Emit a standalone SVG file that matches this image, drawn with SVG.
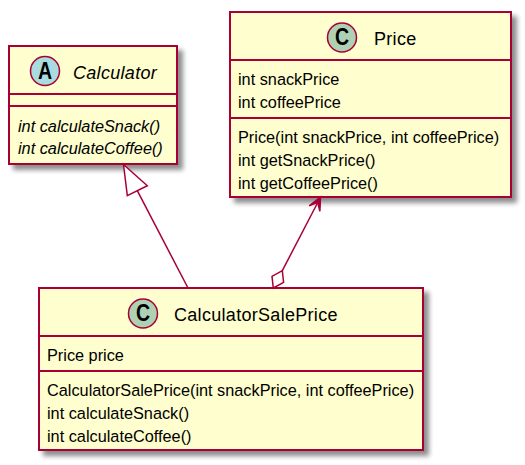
<svg xmlns="http://www.w3.org/2000/svg" width="525" height="465" viewBox="0 0 525 465">
<defs>
<filter id="sh" x="-10%" y="-10%" width="130%" height="130%">
<feGaussianBlur in="SourceAlpha" stdDeviation="2.5" result="b"/>
<feOffset in="b" dx="5" dy="5" result="o"/>
<feComponentTransfer in="o" result="g"><feFuncA type="linear" slope="0.45"/></feComponentTransfer>
<feMerge><feMergeNode in="g"/><feMergeNode in="SourceGraphic"/></feMerge>
</filter>
</defs>
<style>
.box{fill:#FEFECE;stroke:#A80036;stroke-width:2;filter:url(#sh)}
.div{stroke:#A80036;stroke-width:2}
.circ{stroke:#A80036;stroke-width:1.5}
.glyph{font-family:"Liberation Sans",Arial,sans-serif;font-size:23px;font-weight:bold;fill:#000;text-anchor:middle}
.title{font-family:"Liberation Sans",Arial,sans-serif;font-size:18px;fill:#000;letter-spacing:0.3px}
.mem{font-family:"Liberation Sans",Arial,sans-serif;font-size:16.3px;fill:#000}
.it{font-style:italic}
.edge{stroke:#A80036;stroke-width:1.5;fill:none}
</style>
<rect width="525" height="465" fill="#FFFFFF"/>
<g id="Calculator">
<rect class="box" x="9" y="46" width="168" height="118"/>
<line class="div" x1="9" y1="94" x2="177" y2="94"/>
<line class="div" x1="9" y1="106" x2="177" y2="106"/>
<circle class="circ" cx="45" cy="71" r="14.5" fill="#A9DCDF"/>
<text class="glyph" x="45" y="79" transform="translate(45 0) scale(0.85 1) translate(-45 0)">A</text>
<text class="title it" x="73" y="78.5">Calculator</text>
<text class="mem it" x="18" y="131.5">int calculateSnack()</text>
<text class="mem it" x="18" y="154">int calculateCoffee()</text>
</g>
<g id="Price">
<rect class="box" x="230" y="12" width="281" height="185"/>
<line class="div" x1="230" y1="60" x2="511" y2="60"/>
<line class="div" x1="230" y1="118" x2="511" y2="118"/>
<circle class="circ" cx="342" cy="37.5" r="14.5" fill="#ADD1B2"/>
<text class="glyph" x="342" y="45.5" transform="translate(342 0) scale(0.85 1) translate(-342 0)">C</text>
<text class="title" x="374" y="44.5">Price</text>
<text class="mem" x="238" y="84.5">int snackPrice</text>
<text class="mem" x="238" y="107.5">int coffeePrice</text>
<text class="mem" x="238" y="142.5">Price(int snackPrice, int coffeePrice)</text>
<text class="mem" x="238" y="165.5">int getSnackPrice()</text>
<text class="mem" x="238" y="188.5">int getCoffeePrice()</text>
</g>
<g id="CalculatorSalePrice">
<rect class="box" x="39" y="288" width="384" height="162"/>
<line class="div" x1="39" y1="336" x2="423" y2="336"/>
<line class="div" x1="39" y1="371" x2="423" y2="371"/>
<circle class="circ" cx="143" cy="313.5" r="14.5" fill="#ADD1B2"/>
<text class="glyph" x="143" y="321.5" transform="translate(143 0) scale(0.85 1) translate(-143 0)">C</text>
<text class="title" x="174" y="320.5">CalculatorSalePrice</text>
<text class="mem" x="47" y="360.5">Price price</text>
<text class="mem" x="47" y="395.5">CalculatorSalePrice(int snackPrice, int coffeePrice)</text>
<text class="mem" x="47" y="418.5">int calculateSnack()</text>
<text class="mem" x="47" y="441.5">int calculateCoffee()</text>
</g>
<g id="connectors">
<g id="e1">
<line class="edge" x1="188" y1="288" x2="137.3" y2="190.7"/>
<polygon class="edge" points="123.5,164.5 147.3,185.7 127.3,195.7" style="fill:#FFFFFF"/>
</g>
<g id="e2">
<line class="edge" x1="282.3" y1="270.7" x2="318" y2="202"/>
<polygon points="320.5,197 319.9,211.3 317.7,202.3 309.2,205.8" fill="#A80036" stroke="#A80036" stroke-width="1.5"/>
<polygon class="edge" points="273.3,288 283.6,282.3 282.3,270.7 272,276.4" style="fill:#FFFFFF"/>
</g>
</g>
</svg>
